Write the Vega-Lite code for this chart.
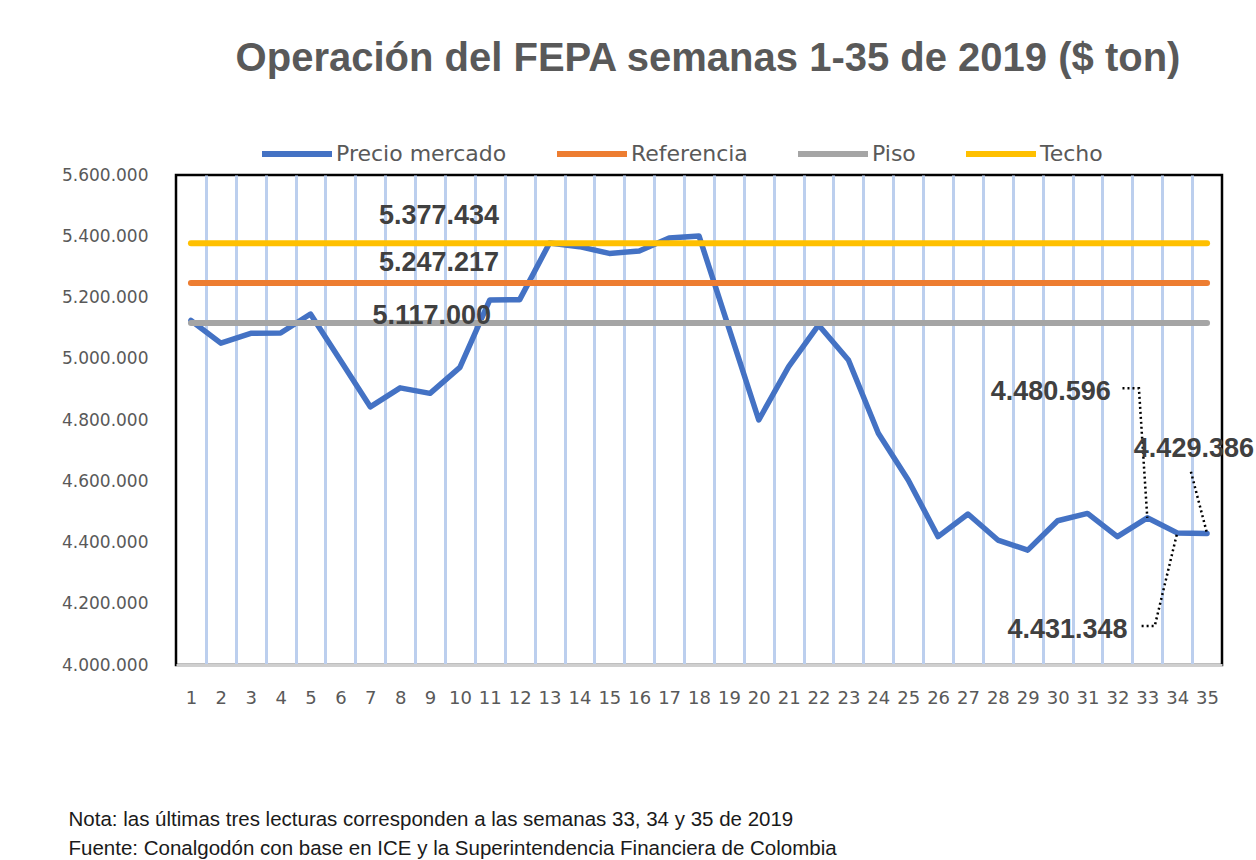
{
  "$schema": "https://vega.github.io/schema/vega-lite/v6.json",
  "width": 1046,
  "height": 490,
  "autosize": {"type": "none"},
  "padding": {"left": 176, "top": 175, "right": 34, "bottom": 195},
  "background": "#ffffff",
  "title": {
    "text": "Operación del FEPA semanas 1-35 de 2019 ($ ton)",
    "font": "Liberation Sans",
    "fontSize": 40,
    "fontWeight": "bold",
    "color": "#595959",
    "anchor": "middle",
    "frame": "group",
    "baseline": "alphabetic",
    "offset": 5,
    "dx": 9
  },
  "config": {
    "view": {"stroke": "#000000", "strokeWidth": 2.5}
  },
  "datasets": {
    "semanas": [
      {"semana": 1, "Precio": 5125000, "Referencia": 5247217, "Piso": 5117000, "Techo": 5377434},
      {"semana": 2, "Precio": 5051000, "Referencia": 5247217, "Piso": 5117000, "Techo": 5377434},
      {"semana": 3, "Precio": 5083000, "Referencia": 5247217, "Piso": 5117000, "Techo": 5377434},
      {"semana": 4, "Precio": 5084000, "Referencia": 5247217, "Piso": 5117000, "Techo": 5377434},
      {"semana": 5, "Precio": 5146000, "Referencia": 5247217, "Piso": 5117000, "Techo": 5377434},
      {"semana": 6, "Precio": 4995000, "Referencia": 5247217, "Piso": 5117000, "Techo": 5377434},
      {"semana": 7, "Precio": 4843000, "Referencia": 5247217, "Piso": 5117000, "Techo": 5377434},
      {"semana": 8, "Precio": 4905000, "Referencia": 5247217, "Piso": 5117000, "Techo": 5377434},
      {"semana": 9, "Precio": 4887000, "Referencia": 5247217, "Piso": 5117000, "Techo": 5377434},
      {"semana": 10, "Precio": 4972000, "Referencia": 5247217, "Piso": 5117000, "Techo": 5377434},
      {"semana": 11, "Precio": 5192000, "Referencia": 5247217, "Piso": 5117000, "Techo": 5377434},
      {"semana": 12, "Precio": 5193000, "Referencia": 5247217, "Piso": 5117000, "Techo": 5377434},
      {"semana": 13, "Precio": 5378000, "Referencia": 5247217, "Piso": 5117000, "Techo": 5377434},
      {"semana": 14, "Precio": 5366000, "Referencia": 5247217, "Piso": 5117000, "Techo": 5377434},
      {"semana": 15, "Precio": 5344000, "Referencia": 5247217, "Piso": 5117000, "Techo": 5377434},
      {"semana": 16, "Precio": 5352000, "Referencia": 5247217, "Piso": 5117000, "Techo": 5377434},
      {"semana": 17, "Precio": 5394000, "Referencia": 5247217, "Piso": 5117000, "Techo": 5377434},
      {"semana": 18, "Precio": 5401000, "Referencia": 5247217, "Piso": 5117000, "Techo": 5377434},
      {"semana": 19, "Precio": 5100000, "Referencia": 5247217, "Piso": 5117000, "Techo": 5377434},
      {"semana": 20, "Precio": 4800000, "Referencia": 5247217, "Piso": 5117000, "Techo": 5377434},
      {"semana": 21, "Precio": 4974000, "Referencia": 5247217, "Piso": 5117000, "Techo": 5377434},
      {"semana": 22, "Precio": 5110000, "Referencia": 5247217, "Piso": 5117000, "Techo": 5377434},
      {"semana": 23, "Precio": 4996000, "Referencia": 5247217, "Piso": 5117000, "Techo": 5377434},
      {"semana": 24, "Precio": 4757000, "Referencia": 5247217, "Piso": 5117000, "Techo": 5377434},
      {"semana": 25, "Precio": 4604000, "Referencia": 5247217, "Piso": 5117000, "Techo": 5377434},
      {"semana": 26, "Precio": 4419000, "Referencia": 5247217, "Piso": 5117000, "Techo": 5377434},
      {"semana": 27, "Precio": 4493000, "Referencia": 5247217, "Piso": 5117000, "Techo": 5377434},
      {"semana": 28, "Precio": 4408000, "Referencia": 5247217, "Piso": 5117000, "Techo": 5377434},
      {"semana": 29, "Precio": 4375000, "Referencia": 5247217, "Piso": 5117000, "Techo": 5377434},
      {"semana": 30, "Precio": 4471000, "Referencia": 5247217, "Piso": 5117000, "Techo": 5377434},
      {"semana": 31, "Precio": 4495000, "Referencia": 5247217, "Piso": 5117000, "Techo": 5377434},
      {"semana": 32, "Precio": 4419000, "Referencia": 5247217, "Piso": 5117000, "Techo": 5377434},
      {"semana": 33, "Precio": 4480596, "Referencia": 5247217, "Piso": 5117000, "Techo": 5377434},
      {"semana": 34, "Precio": 4431348, "Referencia": 5247217, "Piso": 5117000, "Techo": 5377434},
      {"semana": 35, "Precio": 4429386, "Referencia": 5247217, "Piso": 5117000, "Techo": 5377434}
    ],
    "etiquetas": [
      {"semana": 9.3, "valor": 5440000, "texto": "5.377.434"},
      {"semana": 9.3, "valor": 5287500, "texto": "5.247.217"},
      {"semana": 9.06, "valor": 5113500, "texto": "5.117.000"},
      {"semana": 29.77, "valor": 4865300, "texto": "4.480.596"},
      {"semana": 34.56, "valor": 4680200, "texto": "4.429.386"},
      {"semana": 30.33, "valor": 4087200, "texto": "4.431.348"}
    ],
    "guias": [
      {"id": "a", "orden": 1, "semana": 32.17, "valor": 4903500},
      {"id": "a", "orden": 2, "semana": 32.72, "valor": 4903500},
      {"id": "a", "orden": 3, "semana": 33, "valor": 4480596},
      {"id": "b", "orden": 1, "semana": 34.46, "valor": 4631200},
      {"id": "b", "orden": 2, "semana": 35, "valor": 4429386},
      {"id": "c", "orden": 1, "semana": 32.81, "valor": 4127300},
      {"id": "c", "orden": 2, "semana": 33.25, "valor": 4127300},
      {"id": "c", "orden": 3, "semana": 34, "valor": 4431348}
    ]
  },
  "resolve": {"axis": {"x": "independent"}},
  "layer": [
    {
      "data": {"name": "semanas"},
      "mark": {"type": "line", "strokeWidth": 5.5, "strokeCap": "round", "strokeJoin": "round"},
      "encoding": {
        "x": {
          "field": "semana", "type": "quantitative",
          "scale": {"domain": [0.5, 35.5], "nice": false, "zero": false},
          "axis": {
            "orient": "bottom",
            "values": [1.5, 2.5, 3.5, 4.5, 5.5, 6.5, 7.5, 8.5, 9.5, 10.5, 11.5, 12.5, 13.5, 14.5, 15.5, 16.5, 17.5, 18.5, 19.5, 20.5, 21.5, 22.5, 23.5, 24.5, 25.5, 26.5, 27.5, 28.5, 29.5, 30.5, 31.5, 32.5, 33.5, 34.5],
            "grid": true, "gridColor": "#bccfee", "gridWidth": 3, "gridOpacity": 1,
            "labels": false, "ticks": false, "domain": false, "title": null
          }
        },
        "y": {
          "field": "Precio", "type": "quantitative",
          "scale": {"domain": [4000000, 5600000], "nice": false, "zero": false},
          "axis": {
            "values": [4000000, 4200000, 4400000, 4600000, 4800000, 5000000, 5200000, 5400000, 5600000],
            "labelExpr": "replace(format(datum.value, ',.0f'), /,/g, '.')",
            "grid": false, "ticks": false, "domain": false, "title": null,
            "labelFont": "DejaVu Sans", "labelFontSize": 17, "labelColor": "#595959",
            "labelPadding": 28
          }
        },
        "color": {
          "datum": "Precio mercado",
          "type": "nominal",
          "title": null,
          "scale": {
            "domain": ["Precio mercado", "Referencia", "Piso", "Techo"],
            "range": ["#4472C4", "#ED7D31", "#A5A5A5", "#FFC000"]
          },
          "legend": {
            "orient": "none",
            "direction": "horizontal",
            "legendX": 83,
            "legendY": -59,
            "title": null,
            "padding": 0,
            "symbolType": "stroke",
            "symbolSize": 4900,
            "symbolStrokeWidth": 6,
            "columnPadding": 38,
            "labelFont": "DejaVu Sans",
            "labelFontSize": 22,
            "labelColor": "#595959",
            "labelOffset": 1,
            "labelLimit": 300
          }
        }
      }
    },
    {
      "data": {"name": "semanas"},
      "transform": [{"fold": ["Referencia", "Piso", "Techo"], "as": ["serie", "valor"]}],
      "mark": {"type": "line", "strokeWidth": 6, "strokeCap": "round"},
      "encoding": {
        "x": {
          "field": "semana", "type": "quantitative",
          "axis": {
            "orient": "bottom",
            "values": [1, 2, 3, 4, 5, 6, 7, 8, 9, 10, 11, 12, 13, 14, 15, 16, 17, 18, 19, 20, 21, 22, 23, 24, 25, 26, 27, 28, 29, 30, 31, 32, 33, 34, 35],
            "format": "d",
            "grid": false, "ticks": false,
            "domain": true, "domainColor": "#cfcfcf", "domainWidth": 3,
            "labelFont": "DejaVu Sans", "labelFontSize": 18, "labelColor": "#595959",
            "labelPadding": 24, "labelOverlap": false, "labelFlush": false, "labelBound": false,
            "title": ["Nota: las últimas tres lecturas corresponden a las semanas 33, 34 y 35 de 2019", "Fuente: Conalgodón con base en ICE y la Superintendencia Financiera de Colombia"],
            "titleFont": "Liberation Sans",
            "titleFontSize": 20.5,
            "titleFontWeight": "normal",
            "titleColor": "#1a1a1a",
            "titleAlign": "left",
            "titleAnchor": "start",
            "titleBaseline": "alphabetic",
            "titleLineHeight": 29,
            "titleX": -108,
            "titleY": 160
          }
        },
        "y": {"field": "valor", "type": "quantitative"},
        "color": {"field": "serie", "type": "nominal", "title": null}
      }
    },
    {
      "data": {"name": "guias"},
      "mark": {"type": "line", "color": "#000000", "strokeWidth": 2.5, "strokeDash": [2, 3]},
      "encoding": {
        "x": {"field": "semana", "type": "quantitative", "axis": null},
        "y": {"field": "valor", "type": "quantitative"},
        "detail": {"field": "id"},
        "order": {"field": "orden"}
      }
    },
    {
      "data": {"name": "etiquetas"},
      "mark": {"type": "text", "font": "Liberation Sans", "fontSize": 27, "fontWeight": "bold", "color": "#404040", "align": "center", "baseline": "alphabetic"},
      "encoding": {
        "x": {"field": "semana", "type": "quantitative", "axis": null},
        "y": {"field": "valor", "type": "quantitative"},
        "text": {"field": "texto"}
      }
    }
  ]
}
